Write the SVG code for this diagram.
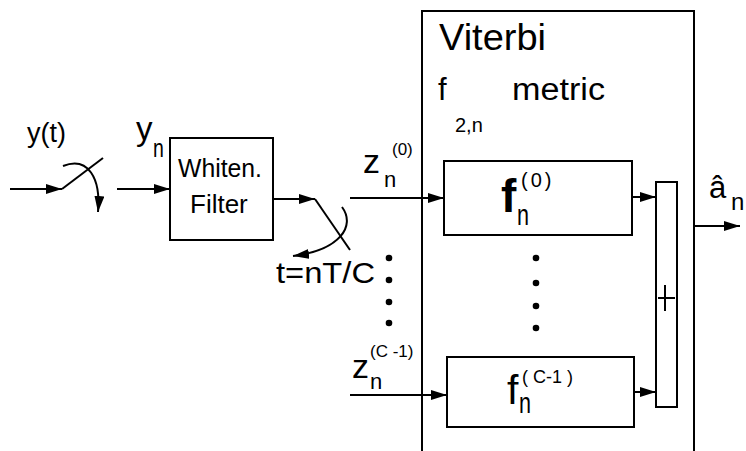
<svg xmlns="http://www.w3.org/2000/svg" width="746" height="451" viewBox="0 0 746 451">
<style>
.ln{fill:none;stroke:#000;stroke-width:2}
.bx{fill:#fff;stroke:#000;stroke-width:2}
.t{font-family:"Liberation Sans",Arial,sans-serif;fill:#000}
.a{marker-end:url(#ah)}
</style>
<defs>
<marker id="ah" markerUnits="userSpaceOnUse" viewBox="0 0 16 10" refX="16" refY="5" markerWidth="16" markerHeight="10" orient="auto">
<path d="M0,0 L16,5 L0,10 Z" fill="#000"/>
</marker>
</defs>
<rect width="746" height="451" fill="#fff"/>

<g id="viterbi">
<path class="ln" d="M422,455 V11 H694 V455"/>
<text class="t" x="439" y="50" font-size="36" textLength="107" lengthAdjust="spacingAndGlyphs">Viterbi</text>
<text class="t" x="438" y="100" font-size="31">f</text>
<text class="t" x="512" y="100" font-size="31" textLength="93" lengthAdjust="spacingAndGlyphs">metric</text>
<text class="t" x="455" y="132" font-size="20">2,n</text>
</g>

<g id="filter">
<rect class="bx" x="170" y="138" width="103" height="102"/>
<text class="t" x="178" y="177" font-size="26" textLength="84" lengthAdjust="spacingAndGlyphs">Whiten.</text>
<text class="t" x="190" y="213" font-size="26">Filter</text>
</g>

<g id="f0">
<rect class="bx" x="444" y="161" width="188" height="74"/>
<text class="t" x="501" y="212" font-size="46" font-weight="bold">f</text>
<text class="t" transform="translate(517,225) scale(0.72,1)" font-size="30">n</text>
<text class="t" x="521" y="187" font-size="20" letter-spacing="3">(0)</text>
</g>

<g id="fC1">
<rect class="bx" x="447" y="357" width="187" height="70"/>
<text class="t" x="507" y="404" font-size="41">f</text>
<text class="t" transform="translate(519,413) scale(0.72,1)" font-size="30">n</text>
<text class="t" x="522" y="383" font-size="18">( C-1 )</text>
</g>

<g id="sum">
<rect class="bx" x="656" y="182" width="21" height="225"/>
<path class="ln" d="M665,285 V311 M658,298 H675"/>
</g>

<g id="labels">
<text class="t" x="27" y="142" font-size="27">y(t)</text>
<text class="t" x="136" y="140" font-size="33">y</text>
<text class="t" transform="translate(153,157) scale(0.75,1)" font-size="26">n</text>
<text class="t" x="363" y="173" font-size="34">z</text>
<text class="t" x="384" y="187" font-size="22">n</text>
<text class="t" x="392" y="155" font-size="17">(0)</text>
<text class="t" x="352" y="378" font-size="34">z</text>
<text class="t" x="370" y="389" font-size="22">n</text>
<text class="t" x="370" y="357" font-size="17">(C -1)</text>
<text class="t" x="276" y="283" font-size="29" textLength="99" lengthAdjust="spacingAndGlyphs">t=nT/C</text>
<text class="t" x="709" y="198" font-size="31">â</text>
<text class="t" x="731" y="210" font-size="24">n</text>
</g>

<g id="dots" fill="#000">
<circle cx="389" cy="258" r="3.3"/>
<circle cx="389" cy="280" r="3.3"/>
<circle cx="389" cy="302" r="3.3"/>
<circle cx="389" cy="323" r="3.3"/>
<circle cx="536" cy="258" r="3.3"/>
<circle cx="536" cy="283" r="3.3"/>
<circle cx="536" cy="306" r="3.3"/>
<circle cx="536" cy="328" r="3.3"/>
</g>

<g id="connectors">
<path class="ln a" d="M10,189 H62"/>
<path class="ln" d="M62,189 L103,158"/>
<path class="ln a" d="M63,166 C88,156 101,178 98,212"/>
<path class="ln a" d="M117,189 H170"/>
<path class="ln a" d="M273,199 H315"/>
<path class="ln" d="M315,199 L350,250"/>
<path class="ln a" d="M342,207 C356,226 340,250 293,256"/>
<path class="ln a" d="M350,198 H444"/>
<path class="ln a" d="M350,395 H447"/>
<path class="ln a" d="M632,197 H656"/>
<path class="ln a" d="M634,392 H656"/>
<path class="ln a" d="M694,226 H740"/>
</g>
</svg>
